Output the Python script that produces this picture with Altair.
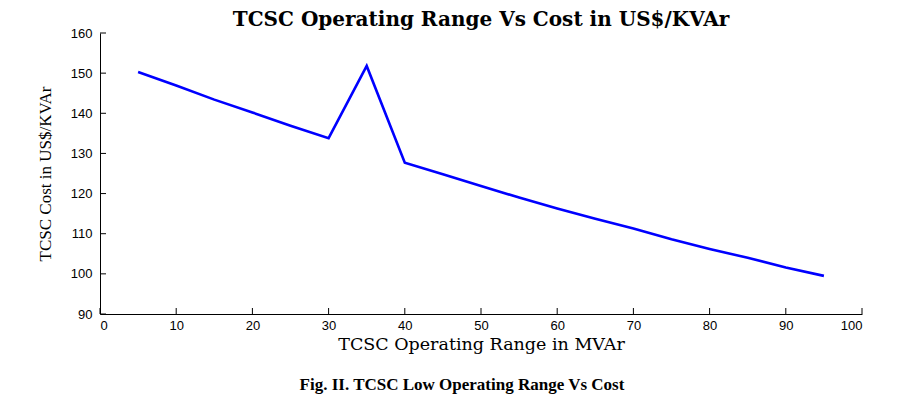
import altair as alt
import pandas as pd

x_vals = [5, 10, 15, 20, 25, 30, 35, 40, 45, 50, 55, 60, 65, 70, 75, 80, 85, 90, 95]
cost = [150.3, 146.9, 143.4, 140.2, 136.9, 133.8, 151.8, 127.7, 124.8, 121.9,
        119.0, 116.3, 113.7, 111.3, 108.6, 106.2, 104.0, 101.6, 99.5]
x_ticks = [0, 10, 20, 30, 40, 50, 60, 70, 80, 90, 100]
y_ticks = [90, 100, 110, 120, 130, 140, 150, 160]

df = pd.DataFrame({"x": x_vals, "y": cost})
dx = pd.DataFrame({"t": x_ticks})
dy = pd.DataFrame({"t": y_ticks})

W, H = 762, 281
xs = alt.Scale(domain=[0, 100], nice=False)
ys = alt.Scale(domain=[90, 160], nice=False)

line = alt.Chart(df).mark_line(color="#0000FF", strokeWidth=2.6).encode(
    x=alt.X("x:Q", scale=xs,
            axis=alt.Axis(values=x_ticks, title="TCSC Operating Range in MVAr",
                          tickSize=0, labelPadding=5, grid=False,
                          domainColor="black", labelColor="black",
                          labelFont="Liberation Sans", labelFontSize=13,
                          titleFont="DejaVu Serif", titleFontSize=17.5,
                          titleFontWeight="normal", titleColor="black", titlePadding=3)),
    y=alt.Y("y:Q", scale=ys,
            axis=alt.Axis(values=y_ticks, title="TCSC Cost in US$/KVAr",
                          tickSize=0, labelPadding=8, grid=False,
                          domainColor="black", labelColor="black",
                          labelFont="Liberation Sans", labelFontSize=13,
                          titleFont="Liberation Serif", titleFontSize=17,
                          titleFontWeight="normal", titleColor="black", titlePadding=16)),
)

xt = alt.Chart(dx).mark_rule(color="black", strokeWidth=1).encode(
    x=alt.X("t:Q", scale=xs), y=alt.value(H), y2=alt.value(H - 6))
yt = alt.Chart(dy).mark_rule(color="black", strokeWidth=1).encode(
    y=alt.Y("t:Q", scale=ys), x=alt.value(0), x2=alt.value(6))

caption = alt.Chart(pd.DataFrame({"c": ["Fig. II. TCSC Low Operating Range Vs Cost"]})).mark_text(
    font="Liberation Serif", fontSize=17, fontWeight="bold", color="black", align="center"
).encode(text="c:N", x=alt.value(362), y=alt.value(352))

chart = alt.layer(line, xt, yt, caption).properties(
    width=W, height=H,
    title=alt.TitleParams("TCSC Operating Range Vs Cost in US$/KVAr",
                          font="DejaVu Serif", fontSize=20, fontWeight="bold",
                          color="black", anchor="middle", offset=-3),
    autosize=alt.AutoSizeParams(type="none"),
    padding={"left": 92, "top": 25, "right": 39, "bottom": 86},
).configure(background="white").configure_view(strokeWidth=0, stroke=None)

chart.save("out.html", embed_options={"renderer": "svg", "actions": False})
